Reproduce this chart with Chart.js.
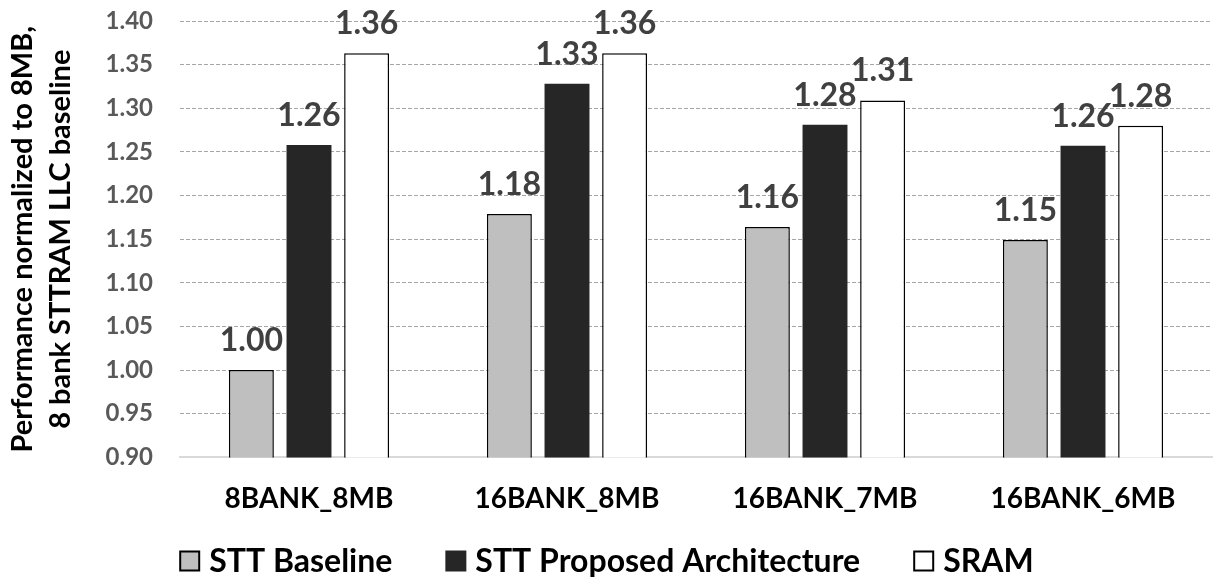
<!DOCTYPE html>
<html>
<head>
<meta charset="utf-8">
<script src="https://cdn.jsdelivr.net/npm/chart.js@4"></script>
<style>
  body { margin: 0; background: #fff; }
  #wrap { width: 1214px; height: 579px; }
</style>
</head>
<body>
<div id="wrap"><canvas id="perfChart"></canvas></div>
<script>
// categories and series
const configs = ['8BANK_8MB', '16BANK_8MB', '16BANK_7MB', '16BANK_6MB'];
const sttBaseline = [1.00, 1.179, 1.164, 1.149];
const sttProposed = [1.258, 1.328, 1.281, 1.257];
const sram = [1.363, 1.363, 1.309, 1.280];
const yTicks = [0.90, 0.95, 1.00, 1.05, 1.10, 1.15, 1.20, 1.25, 1.30, 1.35, 1.40];

// value labels above each bar
const barLabels = {
  id: 'barLabels',
  afterDatasetsDraw(chart) {
    const ctx = chart.ctx;
    ctx.save();
    ctx.font = 'bold 32px Lato';
    ctx.fillStyle = '#404040';
    ctx.textAlign = 'center';
    ctx.textBaseline = 'alphabetic';
    chart.data.datasets.forEach((ds, i) => {
      chart.getDatasetMeta(i).data.forEach((bar, j) => {
        ctx.fillText(ds.data[j].toFixed(2), bar.x, bar.y - 19);
      });
    });
    ctx.restore();
  }
};

// legend drawn at the bottom, Excel style spacing
const bottomLegend = {
  id: 'bottomLegend',
  afterDraw(chart) {
    const ctx = chart.ctx;
    const box = 19, gapText = 10, gapItem = 54, y = 561;
    ctx.save();
    ctx.font = 'bold 32px Lato';
    ctx.textBaseline = 'middle';
    ctx.textAlign = 'left';
    const items = chart.data.datasets.map(ds => ({
      text: ds.label, fill: ds.backgroundColor, stroke: ds.borderWidth ? ds.borderColor : ds.backgroundColor,
      w: box + gapText + ctx.measureText(ds.label).width
    }));
    const total = items.reduce((s, it) => s + it.w, 0) + gapItem * (items.length - 1);
    let x = (chart.width - total) / 2;
    items.forEach(it => {
      ctx.fillStyle = it.fill;
      ctx.fillRect(x, y - box / 2, box, box);
      ctx.strokeStyle = it.stroke;
      ctx.lineWidth = 2;
      ctx.strokeRect(x, y - box / 2, box, box);
      ctx.fillStyle = '#000000';
      ctx.fillText(it.text, x + box + gapText, y + 1);
      x += it.w + gapItem;
    });
    ctx.restore();
  }
};

const perfChartCtx = document.getElementById('perfChart').getContext('2d');
const perfChart = new Chart(perfChartCtx, {
  type: 'bar',
  data: {
    labels: configs,
    datasets: [{
      label: 'STT Baseline',
      data: sttBaseline,
      backgroundColor: '#bfbfbf',
      borderColor: '#000000',
      borderWidth: 1.5
    }, {
      label: 'STT Proposed Architecture',
      data: sttProposed,
      backgroundColor: '#262626',
      borderColor: '#262626',
      borderWidth: 0
    }, {
      label: 'SRAM',
      data: sram,
      backgroundColor: '#ffffff',
      borderColor: '#000000',
      borderWidth: 1.5
    }]
  },
  options: {
    responsive: true,
    maintainAspectRatio: false,
    animation: false,
    categoryPercentage: 0.67,
    barPercentage: 0.78,
    layout: { padding: { top: 21, right: 2, bottom: 38, left: 4 } },
    plugins: {
      legend: { display: false },
      tooltip: { enabled: false }
    },
    scales: {
      x: {
        grid: { display: false, drawTicks: false },
        border: { display: true, color: '#d9d9d9', width: 2 },
        ticks: {
          font: { family: 'Lato', weight: 'bold', size: 28 },
          color: '#000000',
          padding: 25
        }
      },
      y: {
        min: 0.90,
        max: 1.40,
        afterBuildTicks: (scale) => {
          scale.ticks = yTicks.map(v => ({ value: v }));
        },
        afterFit: (scale) => {
          scale.width = 176;
          scale.paddingTop = 0;
          scale.paddingBottom = 0;
        },
        grid: {
          drawTicks: false,
          color: (c) => c.tick && c.tick.value <= 0.9001 ? 'rgba(0,0,0,0)' : '#a6a6a6',
          lineWidth: 1
        },
        border: { display: false, dash: [4, 2] },
        ticks: {
          font: { family: 'Lato', weight: 'bold', size: 24 },
          color: '#595959',
          padding: 27,
          callback: (v) => Number(v).toFixed(2)
        },
        title: {
          display: true,
          text: ['Performance normalized to 8MB,', '8 bank STTRAM LLC baseline'],
          font: { family: 'Lato', weight: 'bold', size: 29, lineHeight: 1.3 },
          color: '#000000',
          padding: { top: 0, bottom: 0 }
        }
      }
    }
  },
  plugins: [barLabels, bottomLegend]
});
</script>
</body>
</html>
